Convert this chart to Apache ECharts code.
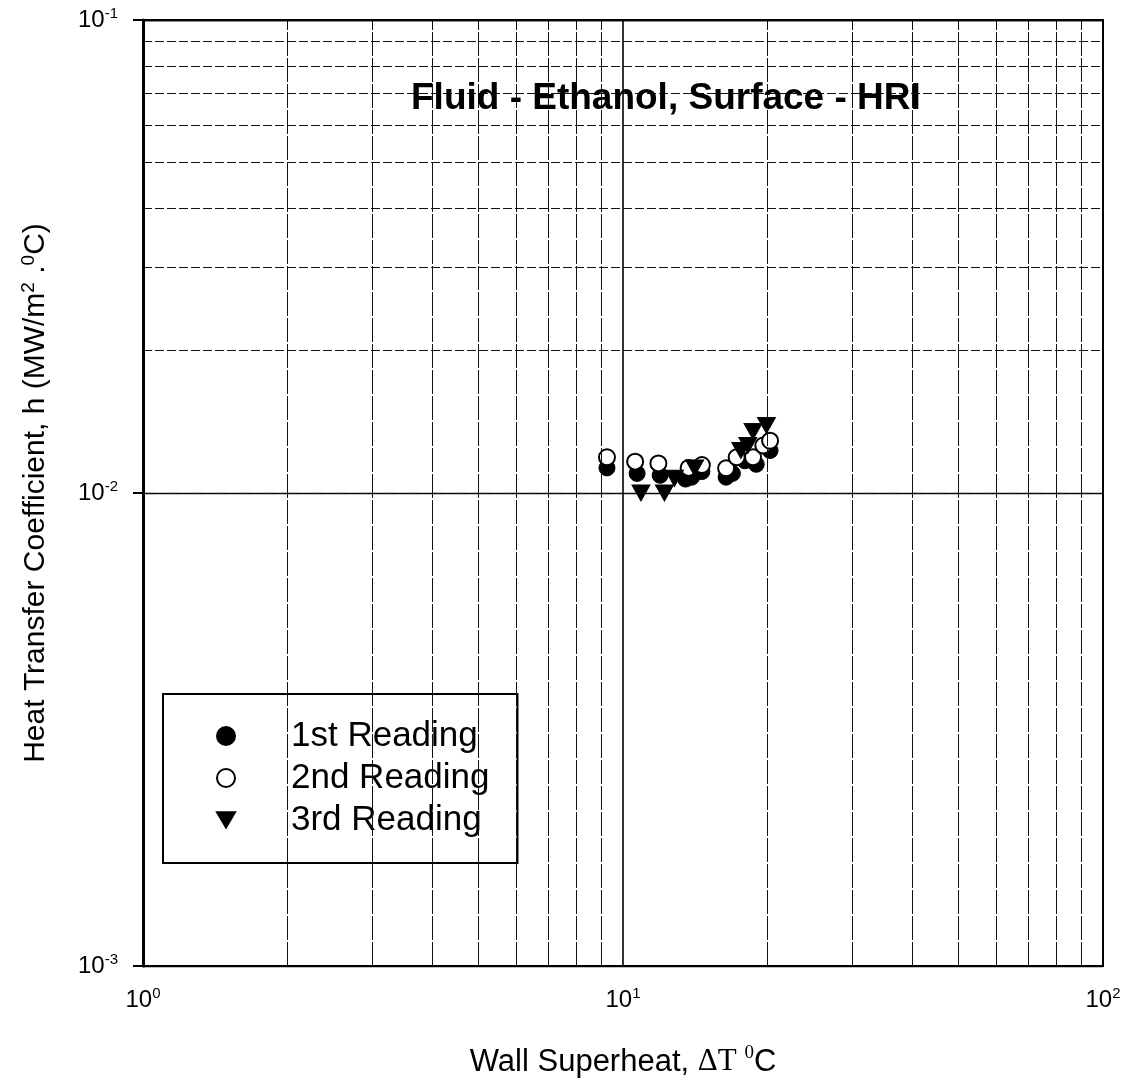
<!DOCTYPE html>
<html>
<head>
<meta charset="utf-8">
<script src="https://cdn.jsdelivr.net/npm/echarts@6/dist/echarts.min.js"></script>
<style>
  html, body { margin: 0; padding: 0; background: #fff; }
  #chart { width: 1141px; height: 1088px; }
</style>
</head>
<body>
<div id="chart"></div>
<script>
// Boiling curve readings: wall superheat (°C) vs heat transfer coefficient (MW/m²·°C)
const seriesNames = ['1st Reading', '2nd Reading', '3rd Reading'];

const reading1X = [9.26, 10.7, 11.95, 13.5, 13.9, 14.6, 16.4, 16.9, 17.95, 18.95, 20.25];
const reading1Y = [0.0113, 0.0110, 0.0109, 0.0107, 0.0108, 0.0111, 0.0108, 0.0110, 0.0117, 0.0115, 0.0123];

const reading2X = [9.26, 10.6, 11.85, 13.7, 14.6, 16.4, 17.25, 18.66, 19.6, 20.25];
const reading2Y = [0.0119, 0.01165, 0.01155, 0.0113, 0.01146, 0.01128, 0.0119, 0.0119, 0.0126, 0.0129];

const reading3X = [10.9, 12.2, 12.8, 14.1, 17.6, 18.2, 18.66, 19.9];
const reading3Y = [0.0100, 0.0100, 0.01074, 0.0113, 0.0123, 0.0126, 0.0135, 0.0139];

// Log-decade subdivisions drawn as minor grid lines
const xMinorLines = [2, 3, 4, 5, 6, 7, 8, 9, 20, 30, 40, 50, 60, 70, 80, 90];
const yMinorLines = [0.002, 0.003, 0.004, 0.005, 0.006, 0.007, 0.008, 0.009,
                     0.02, 0.03, 0.04, 0.05, 0.06, 0.07, 0.08, 0.09];

const pairs = (xs, ys) => xs.map((x, i) => [x, ys[i]]);
const expOf = v => Math.round(Math.log10(v));
const FONT = '"Liberation Sans", Arial, Helvetica, sans-serif';
const SERIF = '"Liberation Serif", "Times New Roman", serif';
const downTriangle = 'path://M0,0 L20,0 L10,17 Z';

const powLabel = v => '{b|10}{s|' + expOf(v) + '}';
const powRich = {
  b: { fontFamily: FONT, fontSize: 24, color: '#000', lineHeight: 28 },
  s: { fontFamily: FONT, fontSize: 15, color: '#000', verticalAlign: 'top', lineHeight: 28 }
};

const chart = echarts.init(document.getElementById('chart'), null, { renderer: 'canvas' });

chart.setOption({
  animation: false,
  backgroundColor: '#fff',
  title: {
    text: 'Fluid - Ethanol, Surface - HRI',
    left: 411,
    top: 80,
    padding: 0,
    textStyle: { fontFamily: FONT, fontSize: 37, fontWeight: 'bold', color: '#000' }
  },
  grid: {
    left: 143, right: 38, top: 20, bottom: 122,
    show: true, borderColor: '#000', borderWidth: 2,
    containLabel: false,
    outerBoundsMode: 'none'
  },
  legend: {
    orient: 'vertical',
    left: 163,
    top: 694,
    padding: [21, 28, 22, 53],
    itemWidth: 18,
    itemHeight: 18,
    itemGap: 0,
    selectedMode: false,
    backgroundColor: '#fff',
    borderColor: '#000',
    borderWidth: 2,
    borderRadius: 0,
    textStyle: { fontFamily: FONT, fontSize: 35, color: '#000', lineHeight: 42, padding: [0, 0, 0, 51] },
    data: [
      { name: seriesNames[0], icon: 'circle' },
      { name: seriesNames[1], icon: 'circle' },
      { name: seriesNames[2], icon: downTriangle }
    ]
  },
  xAxis: {
    type: 'log',
    logBase: 10,
    min: 1,
    max: 100,
    name: '{a|Wall Superheat, }{t|\u0394T }{u|0}{a|C}',
    nameLocation: 'middle',
    nameGap: 78,
    nameTextStyle: {
      rich: {
        a: { fontFamily: FONT, fontSize: 31, color: '#000', lineHeight: 36 },
        t: { fontFamily: SERIF, fontSize: 31, color: '#000', lineHeight: 36 },
        u: { fontFamily: SERIF, fontSize: 19, color: '#000', verticalAlign: 'top', lineHeight: 36 }
      }
    },
    axisLine: { show: true, lineStyle: { color: '#000', width: 2 } },
    axisTick: { show: false },
    axisLabel: {
      margin: 20,
      showMinLabel: true,
      showMaxLabel: true,
      formatter: powLabel,
      rich: powRich
    },
    splitLine: { show: true, lineStyle: { color: '#000', width: 1.6 } },
    minorTick: { show: false },
    minorSplitLine: { show: false }
  },
  yAxis: {
    type: 'log',
    logBase: 10,
    min: 0.001,
    max: 0.1,
    name: '{a|Heat Transfer Coefficient, h (MW/m}{u|2}{a| .}{u|0}{a|C)}',
    nameLocation: 'middle',
    nameRotate: 90,
    nameGap: 90,
    nameTextStyle: {
      rich: {
        a: { fontFamily: FONT, fontSize: 30, color: '#000', lineHeight: 34 },
        u: { fontFamily: FONT, fontSize: 19, color: '#000', verticalAlign: 'top', lineHeight: 34 }
      }
    },
    axisLine: { show: true, lineStyle: { color: '#000', width: 3 } },
    axisTick: { show: true, inside: false, length: 10, lineStyle: { color: '#000', width: 2 } },
    axisLabel: {
      margin: 25,
      showMinLabel: true,
      showMaxLabel: true,
      formatter: powLabel,
      rich: powRich
    },
    splitLine: { show: true, lineStyle: { color: '#000', width: 1.3 } },
    minorTick: { show: false },
    minorSplitLine: { show: false }
  },
  series: [
    {
      name: 'minor-grid',
      type: 'line',
      data: [],
      z: 1,
      silent: true,
      markLine: {
        silent: true,
        symbol: 'none',
        label: { show: false },
        animation: false,
        data: [
          ...xMinorLines.map(v => ({ xAxis: v, lineStyle: { color: '#111', width: 1, type: [24, 2] } })),
          ...yMinorLines.map(v => ({ yAxis: v, lineStyle: { color: '#111', width: 1, type: [9, 3] } }))
        ]
      }
    },
    {
      name: seriesNames[0],
      type: 'scatter',
      z: 3,
      symbol: 'circle',
      symbolSize: 16,
      itemStyle: { color: '#000', borderColor: '#000', borderWidth: 1, opacity: 1 },
      data: pairs(reading1X, reading1Y)
    },
    {
      name: seriesNames[1],
      type: 'scatter',
      z: 4,
      symbol: 'circle',
      symbolSize: 16,
      itemStyle: { color: '#fff', borderColor: '#000', borderWidth: 2, opacity: 1 },
      data: pairs(reading2X, reading2Y)
    },
    {
      name: seriesNames[2],
      type: 'scatter',
      z: 5,
      symbol: downTriangle,
      symbolSize: [18, 16],
      itemStyle: { color: '#000', borderColor: '#000', borderWidth: 1, opacity: 1 },
      data: pairs(reading3X, reading3Y)
    }
  ]
});
</script>
</body>
</html>
